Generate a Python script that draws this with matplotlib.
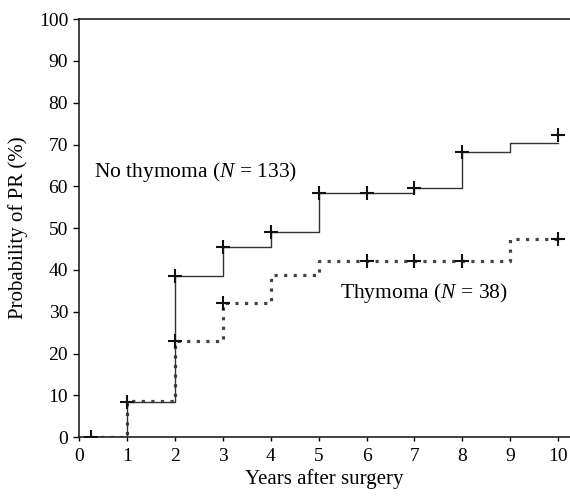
import numpy as np
import matplotlib.pyplot as plt

plt.rcParams['font.family'] = ['Liberation Serif', 'DejaVu Serif']
plt.rcParams['mathtext.fontset'] = 'custom'
plt.rcParams['mathtext.it'] = 'Liberation Serif:italic'
plt.rcParams['mathtext.rm'] = 'Liberation Serif'

# step curves (years, probability %)
no_thy_x = [0.25, 1, 2, 3, 4, 5, 6, 7, 8, 9, 10]
no_thy_y = [0, 8.5, 38.5, 45.5, 49, 58.3, 58.3, 59.5, 68.2, 70.3, 70.3]
no_thy_cens_x = [0.25, 1, 2, 3, 4, 5, 6, 7, 8, 10]
no_thy_cens_y = [0, 8.5, 38.5, 45.5, 49, 58.3, 58.3, 59.5, 68.2, 72.3]

thy_x = [0.25, 1, 2, 3, 4, 5, 6, 7, 8, 9, 10]
thy_y = [0, 8.6, 22.9, 32.1, 38.9, 42.1, 42.1, 42.1, 42.1, 47.3, 47.3]
thy_cens_x = [2, 3, 6, 7, 8, 10]
thy_cens_y = [22.9, 32.1, 42.1, 42.1, 42.1, 47.3]

fig = plt.figure(figsize=(5.70, 5.03), dpi=100)
ax = fig.add_axes([0.139, 0.131, 0.861, 0.831])

ax.step(thy_x, thy_y, where='post', color='#444444', lw=2.3,
        linestyle=(0, (1, 2.0)), zorder=2)
ax.step(no_thy_x, no_thy_y, where='post', color='#333333', lw=1.0, zorder=3)

ax.plot(no_thy_cens_x, no_thy_cens_y, ls='none', marker='+', ms=10.5, mew=1.5,
        color='#111111', zorder=4)
ax.plot(thy_cens_x, thy_cens_y, ls='none', marker='+', ms=10.5, mew=1.5,
        color='#111111', zorder=4)

ax.text(0.3, 63.5, 'No thymoma ($N$ = 133)', fontsize=15.5, va='center', ha='left')
ax.text(5.45, 34.5, 'Thymoma ($N$ = 38)', fontsize=15.5, va='center', ha='left')

ax.set_xlim(0, 10.25)
ax.set_ylim(0, 100)
ax.set_xticks(range(0, 11))
ax.set_yticks(range(0, 101, 10))
ax.tick_params(axis='y', direction='out', length=4, width=1, labelsize=14, pad=4)
ax.tick_params(axis='x', direction='out', length=3, width=1, labelsize=14, pad=5)
ax.spines['right'].set_visible(False)
for s in ['left', 'bottom', 'top']:
    ax.spines[s].set_linewidth(1.2)
    ax.spines[s].set_color('#222222')

ax.set_xlabel('Years after surgery', fontsize=15, labelpad=3)
ax.set_ylabel('Probability of PR (%)', fontsize=15, labelpad=8)

fig.savefig('out.png', dpi=100)
